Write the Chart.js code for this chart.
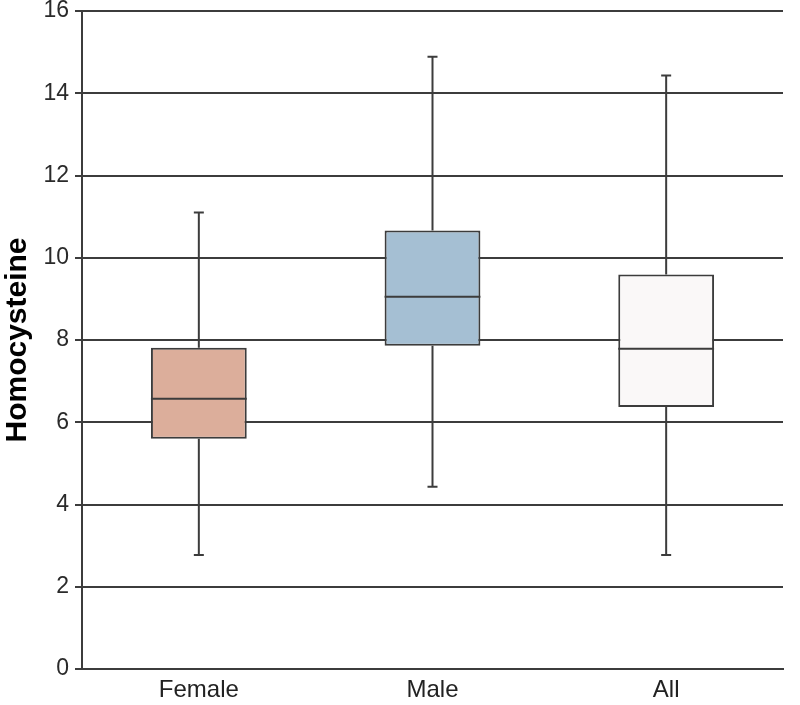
<!DOCTYPE html>
<html>
<head>
<meta charset="utf-8">
<script src="https://cdn.jsdelivr.net/npm/chart.js@4"></script>
<style>
  html, body { margin: 0; padding: 0; background: #fff; }
  #wrap { width: 800px; height: 705px; }
</style>
</head>
<body>
<div id="wrap"><canvas id="boxChart" width="800" height="705"></canvas></div>
<script>
const groups = ['Female', 'Male', 'All'];
const minVals = [2.77, 4.43, 2.77];
const q1Vals = [5.60, 7.86, 6.37];
const medianVals = [6.57, 9.05, 7.79];
const q3Vals = [7.81, 10.66, 9.59];
const maxVals = [11.10, 14.89, 14.43];
const boxColors = ['#dcae9b', '#a5bfd3', '#faf8f8'];
const yTicks = [0, 2, 4, 6, 8, 10, 12, 14, 16];

const lineColor = '#3c3c3c';

// whiskers + median on top of the floating bars
const whiskerPlugin = {
  id: 'whiskers',
  afterDatasetsDraw(chart) {
    const ctx = chart.ctx;
    const x = chart.scales.x;
    const y = chart.scales.y;
    const bars = chart.getDatasetMeta(0).data;
    ctx.save();
    ctx.strokeStyle = lineColor;
    ctx.lineWidth = 2;
    groups.forEach((g, i) => {
      const cx = x.getPixelForValue(i);
      const half = bars[i].width / 2;
      const cap = 5;
      ctx.beginPath();
      ctx.moveTo(cx, y.getPixelForValue(maxVals[i]));
      ctx.lineTo(cx, y.getPixelForValue(q3Vals[i]));
      ctx.moveTo(cx, y.getPixelForValue(q1Vals[i]));
      ctx.lineTo(cx, y.getPixelForValue(minVals[i]));
      ctx.moveTo(cx - cap, y.getPixelForValue(maxVals[i]));
      ctx.lineTo(cx + cap, y.getPixelForValue(maxVals[i]));
      ctx.moveTo(cx - cap, y.getPixelForValue(minVals[i]));
      ctx.lineTo(cx + cap, y.getPixelForValue(minVals[i]));
      ctx.moveTo(cx - half, y.getPixelForValue(medianVals[i]));
      ctx.lineTo(cx + half, y.getPixelForValue(medianVals[i]));
      ctx.stroke();
    });
    ctx.restore();
  }
};

const ctx = document.getElementById('boxChart').getContext('2d');
new Chart(ctx, {
  type: 'bar',
  data: {
    labels: groups,
    datasets: [{
      label: 'Homocysteine',
      data: groups.map((g, i) => [q1Vals[i], q3Vals[i]]),
      backgroundColor: boxColors,
      borderColor: lineColor,
      borderWidth: 2,
      borderSkipped: false,
      categoryPercentage: 1,
      barPercentage: 0.41
    }]
  },
  options: {
    responsive: false,
    animation: false,
    layout: { padding: { top: 11, right: 17, left: 0, bottom: 0 } },
    plugins: {
      legend: { display: false },
      tooltip: { enabled: false }
    },
    scales: {
      x: {
        grid: { display: false, drawTicks: false },
        border: { color: lineColor, width: 2 },
        ticks: {
          color: '#222',
          font: { family: 'Liberation Sans, Arial', size: 24 },
          padding: 7
        },
        afterFit(scale) {
          scale.height = 36;
          scale.paddingLeft = 0;
          scale.paddingRight = 0;
        }
      },
      y: {
        min: 0,
        max: 16,
        afterBuildTicks(scale) { scale.ticks = yTicks.map(v => ({ value: v })); },
        grid: {
          color: lineColor,
          lineWidth: 2,
          tickLength: 7,
          tickColor: lineColor
        },
        border: { color: lineColor, width: 2 },
        ticks: {
          color: '#2a2a2a',
          font: { family: 'Liberation Sans, Arial', size: 23 },
          padding: 6
        },
        title: {
          display: true,
          text: 'Homocysteine',
          color: '#000',
          font: { family: 'Liberation Sans, Arial', size: 30, weight: 'bold' },
          padding: { top: 0, bottom: 2 }
        },
        afterFit(scale) {
          scale.width = 82;
          scale.paddingTop = 0;
          scale.paddingBottom = 0;
        }
      }
    }
  },
  plugins: [whiskerPlugin]
});
</script>
</body>
</html>
